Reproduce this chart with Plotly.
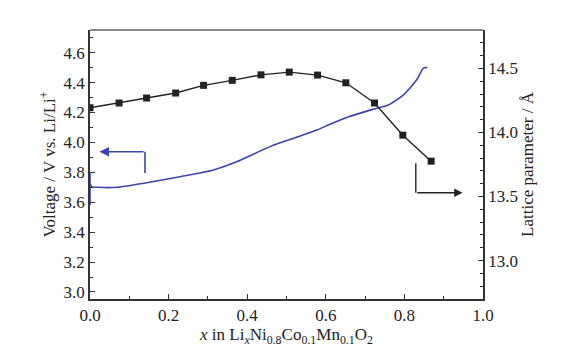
import plotly.graph_objects as go

# Voltage curve (left axis): initial vertical jump, then charge curve
jump_x = [0, 0]
jump_y = [3.58, 3.80]
volt_x = [0, 0.004, 0.02, 0.069, 0.137, 0.229, 0.314, 0.373, 0.458, 0.52, 0.577, 0.611,
          0.662, 0.721, 0.759, 0.797, 0.831, 0.848, 0.858]
volt_y = [3.725, 3.705, 3.70, 3.70, 3.727, 3.771, 3.816, 3.871, 3.972, 4.03, 4.083, 4.122,
          4.175, 4.222, 4.25, 4.317, 4.417, 4.496, 4.502]

# Lattice parameter (right axis)
lat_x = [0, 0.074, 0.144, 0.218, 0.289, 0.362, 0.435, 0.507, 0.579, 0.651, 0.724, 0.796, 0.868]
lat_y = [14.193, 14.23, 14.269, 14.308, 14.368, 14.407, 14.45, 14.471, 14.448, 14.388, 14.23, 13.979, 13.776]

x_ticks = [0.0, 0.2, 0.4, 0.6, 0.8, 1.0]
v_ticks = [3.0, 3.2, 3.4, 3.6, 3.8, 4.0, 4.2, 4.4, 4.6]
c_ticks = [13.0, 13.5, 14.0, 14.5]

# Indicator arrows (data coords on x / left y)
blue_arrow = dict(corner_x=0.14, bottom_y=3.796, top_y=3.938, tip_x=0.024)
black_arrow = dict(corner_x=0.829, top_y=3.861, bottom_y=3.664, tip_x=0.948)

BLUE = "#3b44ad"
BLACK = "#222222"
AX = "#333333"
FONT = "Liberation Serif"
FS = 17

fig = go.Figure()
fig.add_trace(go.Scatter(x=jump_x, y=jump_y, mode="lines",
                         line=dict(color=BLUE, width=1.6), yaxis="y", showlegend=False))
fig.add_trace(go.Scatter(x=volt_x, y=volt_y, mode="lines",
                         line=dict(color=BLUE, width=1.6, shape="spline", smoothing=0.6),
                         yaxis="y", showlegend=False))
fig.add_trace(go.Scatter(x=lat_x, y=lat_y, mode="lines+markers",
                         line=dict(color=BLACK, width=1.4),
                         marker=dict(symbol="square", size=7, color=BLACK),
                         yaxis="y2", showlegend=False))

axis_common = dict(showgrid=False, zeroline=False, ticks="inside", ticklen=5, tickwidth=1,
                   tickcolor=AX, showline=True, linecolor=AX, linewidth=1.5,
                   tickfont=dict(family=FONT, size=FS, color="#222"))

fig.update_layout(
    width=574, height=351,
    margin=dict(l=90, r=91, t=30, b=52),
    paper_bgcolor="white", plot_bgcolor="white",
    font=dict(family=FONT, size=FS, color="#222"),
    xaxis=dict(range=[0, 1], tickvals=x_ticks, ticktext=[f"{v:.1f}" for v in x_ticks],
               minor=dict(dtick=0.1, ticks="inside", ticklen=3, tickcolor=AX),
               title=dict(text="<i>x</i> in Li<sub><i>x</i></sub>Ni<sub>0.8</sub>Co<sub>0.1</sub>Mn<sub>0.1</sub>O<sub>2</sub>",
                          font=dict(family=FONT, size=FS), standoff=2),
               **axis_common),
    yaxis=dict(range=[2.953, 4.752], tickvals=v_ticks, ticktext=[f"{v:.1f}" for v in v_ticks],
               minor=dict(dtick=0.1, tick0=3.0, ticks="inside", ticklen=3, tickcolor=AX),
               title=dict(text="Voltage / V vs. Li/Li<sup>+</sup>", font=dict(family=FONT, size=FS), standoff=4),
               **axis_common),
    yaxis2=dict(range=[12.70, 14.80], overlaying="y", side="right", tickvals=c_ticks,
                ticktext=[f"{v:.1f}" for v in c_ticks],
                minor=dict(dtick=0.1, tick0=13.0, ticks="inside", ticklen=3, tickcolor=AX),
                title=dict(text="Lattice parameter / Å", font=dict(family=FONT, size=FS), standoff=4),
                **axis_common),
)

# top frame line
fig.add_shape(type="line", xref="paper", yref="paper", x0=0, x1=1, y0=1, y1=1,
              line=dict(color="#888888", width=2))

# blue arrow
fig.add_shape(type="line", xref="x", yref="y", x0=blue_arrow["corner_x"], x1=blue_arrow["corner_x"],
              y0=blue_arrow["bottom_y"], y1=blue_arrow["top_y"], line=dict(color=BLUE, width=1.6))
fig.add_annotation(x=blue_arrow["tip_x"], y=blue_arrow["top_y"], ax=blue_arrow["corner_x"], ay=blue_arrow["top_y"],
                   xref="x", yref="y", axref="x", ayref="y", text="", showarrow=True,
                   arrowhead=2, arrowsize=1.2, arrowwidth=1.6, arrowcolor=BLUE)

# black arrow
fig.add_shape(type="line", xref="x", yref="y", x0=black_arrow["corner_x"], x1=black_arrow["corner_x"],
              y0=black_arrow["top_y"], y1=black_arrow["bottom_y"], line=dict(color=BLACK, width=1.4))
fig.add_annotation(x=black_arrow["tip_x"], y=black_arrow["bottom_y"], ax=black_arrow["corner_x"], ay=black_arrow["bottom_y"],
                   xref="x", yref="y", axref="x", ayref="y", text="", showarrow=True,
                   arrowhead=2, arrowsize=1.2, arrowwidth=1.4, arrowcolor=BLACK)

fig.write_html("out.html")
